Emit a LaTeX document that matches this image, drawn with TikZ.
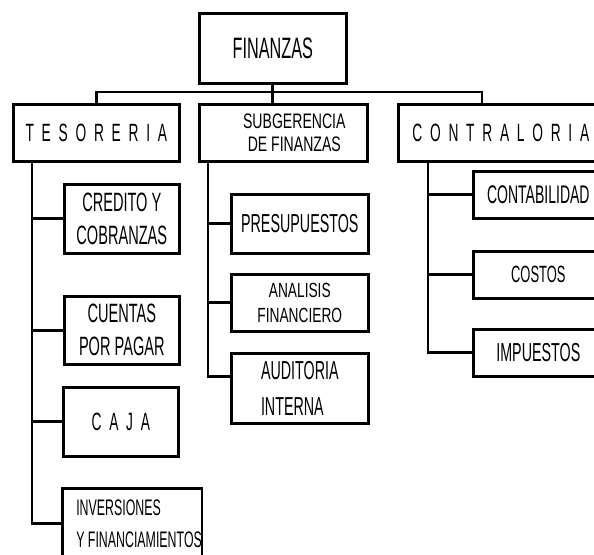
\documentclass[tikz,border=0pt]{standalone}
\usepackage{fontspec}
\setmainfont{Liberation Sans}[FakeStretch=0.55]
\newfontfamily\spaced{Liberation Sans}[FakeStretch=0.55,LetterSpace=31]
\newfontfamily\wide{Liberation Sans}[FakeStretch=0.67]
\newcommand{\fs}[2]{\fontsize{#1pt}{#2pt}\selectfont}

\begin{document}
\begin{tikzpicture}[x=1pt,y=-1pt,
  box/.style={draw,line width=2.6pt,inner sep=0pt,anchor=north west,align=center},
  link/.style={line width=2.8pt}]
\useasboundingbox (0,0) rectangle (594,554);
\clip (0,0) rectangle (594,554);
% cabeza
\node[box,minimum width=147pt,minimum height=70pt,font=\fs{29.5}{30}] (fin) at (198,12) {FINANZAS};
% tres areas
\node[box,minimum width=166pt,minimum height=57pt,font=\spaced\fs{25}{26}] (tes) at (12,103) {TESORERIA};
\node[box,minimum width=168pt,minimum height=57pt,font=\wide\fs{21}{22.5}] (sub) at (198,103) {\hspace*{22pt}SUBGERENCIA\\\hspace*{22pt}DE FINANZAS};
\node[box,minimum width=205pt,minimum height=57pt,font=\spaced\fs{25}{26}] (con) at (397,103) {CONTRALORIA};
% tesoreria
\node[box,minimum width=115pt,minimum height=69pt,font=\fs{26.5}{33}] (cre) at (63,183) {CREDITO Y\\COBRANZAS};
\node[box,minimum width=115pt,minimum height=68pt,font=\fs{26.5}{33}] (cue) at (63,295) {CUENTAS\\POR PAGAR};
\node[box,minimum width=115pt,minimum height=69pt,font=\spaced\fs{25}{26}] (caj) at (62,386) {CAJA};
\node[box,minimum width=137pt,minimum height=70pt,align=left,font=\fs{22.5}{32}] (inv) at (61,487) {\hspace*{14pt}INVERSIONES\\\hspace*{14pt}Y FINANCIAMIENTOS};
% subgerencia
\node[box,minimum width=137pt,minimum height=59pt,font=\fs{26}{26}] (pre) at (230,193) {PRESUPUESTOS};
\node[box,minimum width=137pt,minimum height=57pt,font=\wide\fs{20.5}{25}] (ana) at (230,273) {ANALISIS\\FINANCIERO};
\node[box,minimum width=137pt,minimum height=70pt,align=left,font=\fs{26}{36}] (aud) at (230,352) {AUDITORIA\\INTERNA\hspace*{14pt}};
% contraloria
\node[box,minimum width=130pt,minimum height=47pt,font=\fs{25.5}{26}] (cnt) at (472,170) {CONTABILIDAD};
\node[box,minimum width=130pt,minimum height=47pt,font=\fs{23.5}{26}] (cos) at (472,250) {COSTOS};
\node[box,minimum width=130pt,minimum height=47pt,font=\fs{26}{26}] (imp) at (472,328) {IMPUESTOS};
% lineas
\coordinate (bus) at (273,92);
\coordinate (conup) at (482,103);
\draw[link] (fin.south) -- (fin.south |- sub.north);
\draw[link] (tes.north) |- (bus) -| (conup);
\coordinate (ttop) at ([xshift=20pt]tes.south west);
\coordinate (stop) at ([xshift=10pt]sub.south west);
\coordinate (ctop) at ([xshift=31pt]con.south west);
\draw[link] (ttop) |- (inv.west);
\foreach \n in {cre,cue,caj} \draw[link] (ttop |- \n.west) -- (\n.west);
\draw[link] (stop) |- ([yshift=12pt]aud.west);
\foreach \n in {pre,ana} \draw[link] (stop |- \n.west) -- (\n.west);
\draw[link] (ctop) |- (imp.west);
\foreach \n in {cnt,cos} \draw[link] (ctop |- \n.west) -- (\n.west);
\end{tikzpicture}
\end{document}
